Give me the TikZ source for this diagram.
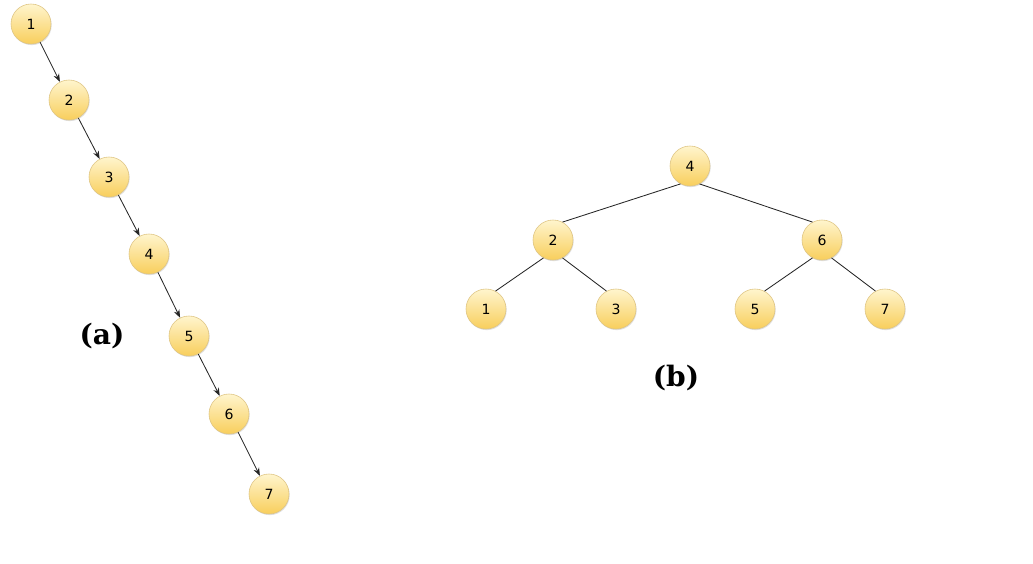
\documentclass[tikz,border=0pt]{standalone}
\usepackage{fontspec}
\setsansfont{DejaVu Sans}
\newfontfamily\capfont{DejaVu Serif}
\usetikzlibrary{arrows.meta, positioning, shadows}

\definecolor{ballTop}{RGB}{255,245,205}
\definecolor{ballBot}{RGB}{248,206,92}
\definecolor{ballRim}{RGB}{222,196,130}

\tikzset{
  ball/.style={circle, draw=ballRim, top color=ballTop, bottom color=ballBot,
               minimum size=1cm, inner sep=0pt, font=\sffamily\fontsize{10}{12}\selectfont,
               drop shadow={opacity=0.25, shadow xshift=0.5pt, shadow yshift=-0.8pt}},
  link/.style={semithick, black!85},
  caption/.style={font=\capfont\bfseries\fontsize{20}{24}\selectfont}
}

\begin{document}
\begin{tikzpicture}[>=Stealth, x=0.025cm, y=-0.025cm]
  \useasboundingbox (0,0) rectangle (1033,564);

  % (a) degenerate chain
  \node[ball] (a1) at (31,24)  {1};
  \node[ball] (a2) at (69,100) {2};
  \node[ball] (a3) at (109,177) {3};
  \node[ball] (a4) at (149,254) {4};
  \node[ball] (a5) at (189,336) {5};
  \node[ball] (a6) at (229,414) {6};
  \node[ball] (a7) at (269,494) {7};
  \foreach \i/\j in {1/2, 2/3, 3/4, 4/5, 5/6, 6/7}
    \draw[->, link] (a\i) -- (a\j);
  \node[caption] (capa) at (102,336) {(a)};

  % (b) balanced tree
  \node[ball] (b4) at (690,166) {4};
  \node[ball] (b2) at (553,240) {2};
  \node[ball] (b6) at (822,240) {6};
  \node[ball] (b1) at (486,309) {1};
  \node[ball] (b3) at (616,309) {3};
  \node[ball] (b5) at (755,309) {5};
  \node[ball] (b7) at (885,309) {7};
  \foreach \p/\c in {4/2, 2/1, 6/5}
    \draw[link] (b\p.242) -- (b\c.62);
  \foreach \p/\c in {4/6, 2/3, 6/7}
    \draw[link] (b\p.298) -- (b\c.118);
  \node[caption] (capb) at (676,378) {(b)};
\end{tikzpicture}
\end{document}
